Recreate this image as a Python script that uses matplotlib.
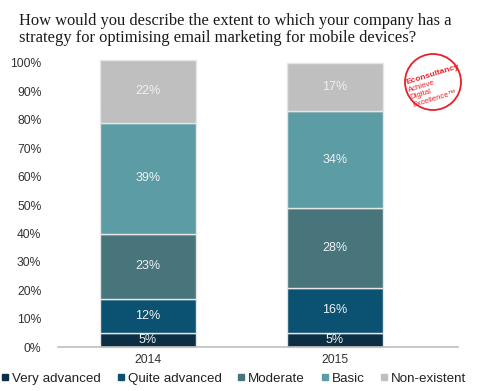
import matplotlib.pyplot as plt
from matplotlib.lines import Line2D
from matplotlib.patches import Ellipse

years = ["2014", "2015"]
categories = ["Very advanced", "Quite advanced", "Moderate", "Basic", "Non-existent"]
very_advanced = [5, 5]
quite_advanced = [12, 16]
moderate = [23, 28]
basic = [39, 34]
non_existent = [22, 17]
series = [very_advanced, quite_advanced, moderate, basic, non_existent]
colors = ["#0c2f44", "#0b5272", "#47757b", "#5c9ca5", "#bfbfbf"]

plt.rcParams['font.family'] = ['Liberation Sans', 'DejaVu Sans']

W, H = 491, 391
fig = plt.figure(figsize=(W / 100, H / 100), dpi=100)
ax = fig.add_axes([0.118, 0.112, 0.815, 0.727])

x = list(range(len(years)))
bottoms = [0] * len(years)
for name, vals, col in zip(categories, series, colors):
    ax.bar(x, vals, bottom=bottoms, width=0.513, color=col,
           edgecolor="#e6e6e6", linewidth=1.0, clip_on=False, label=name)
    for i, v in enumerate(vals):
        ax.text(x[i], bottoms[i] + v / 2, "%d%%" % v, ha="center", va="center",
                color="#eef2f3", fontsize=9)
    bottoms = [b + v for b, v in zip(bottoms, vals)]

ax.set_xlim(-0.481, 1.658)
ax.set_ylim(0, 100)
ax.set_yticks(range(0, 101, 10))
ax.set_yticklabels(["%d%%" % t for t in range(0, 101, 10)])
ax.set_xticks(x)
ax.set_xticklabels(years)
ax.tick_params(axis="both", length=0, labelsize=8.7, colors="#333333")
ax.tick_params(axis="y", pad=12)
ax.tick_params(axis="x", pad=5)
for s in ["top", "right", "left"]:
    ax.spines[s].set_visible(False)
ax.spines["bottom"].set_color("#bfbfbf")
ax.spines["bottom"].set_linewidth(1.2)

fig.text(19 / W, 0.968, "How would you describe the extent to which your company has a\n"
         "strategy for optimising email marketing for mobile devices?",
         family=["Liberation Serif", "DejaVu Serif"], fontsize=11.9,
         color="#1a1a1a", va="top", ha="left", linespacing=1.1)


def px(xp, yp):
    return xp / W, 1 - yp / H


# logo
red = "#e8202a"
logo = Ellipse(px(433, 82), 56 / W, 56 / H, transform=fig.transFigure,
               fill=False, edgecolor=red, linewidth=1.3)
fig.add_artist(logo)
rot = 17
fig.text(*px(407, 84), "Econsultancy", color=red, fontsize=6, fontweight="bold",
         rotation=rot, rotation_mode="anchor", ha="left", va="baseline")
for i, word in enumerate(["Achieve", "Digital", "Excellence\u2122"]):
    fig.text(*px(409 + 2.2 * i, 92 + 7.5 * i), word, color=red, fontsize=5.6,
             rotation=rot, rotation_mode="anchor", ha="left", va="baseline")

handles = [Line2D([], [], marker="s", linestyle="none", markersize=4,
                  markerfacecolor=c, markeredgecolor=c) for c in colors]
fig.legend(handles, categories, loc="center", bbox_to_anchor=(0.475, 0.032),
           ncol=5, frameon=False, fontsize=9.6, handletextpad=0.1,
           columnspacing=1.1, handlelength=0.8, labelcolor="#222222")

fig.savefig("out.png", dpi=100)
